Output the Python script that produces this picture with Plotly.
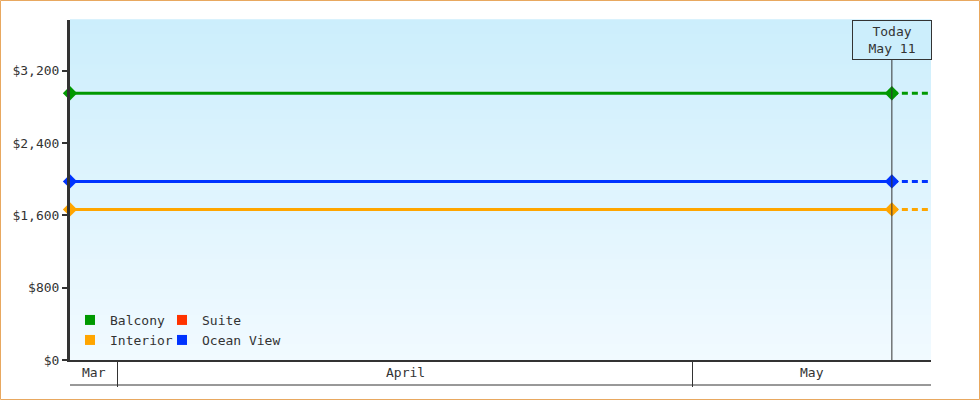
import plotly.graph_objects as go
import pandas as pd

# Data
dates = ["2024-03-29 12:00", "2024-05-11 09:00"]
today = "2024-05-11 09:00"
range_end = "2024-05-13 10:00"
series = ["Balcony", "Suite", "Interior", "Ocean View"]
colors = ["#009900", "#ff3300", "#ffa500", "#0033ff"]
balcony = [2950, 2950]
suite = [None, None]
interior = [1665, 1665]
ocean_view = [1975, 1975]
month_names = ["Mar", "April", "May"]
y_ticks = [0, 800, 1600, 2400, 3200]

values = [balcony, suite, interior, ocean_view]

W, H = 980, 400
ml, mr, mt, mb = 70, 49, 20, 40
pw, ph = W - ml - mr, H - mt - mb

font = dict(family="DejaVu Sans Mono", size=13, color="#333333")

fig = go.Figure()

for name, col, vals in zip(series, colors, values):
    fig.add_trace(go.Scatter(
        x=dates, y=vals, mode="lines+markers", showlegend=False,
        line=dict(color=col, width=3),
        marker=dict(symbol="diamond", size=11, color=col),
        cliponaxis=False, hoverinfo="skip"
    ))
    # projection after today
    last = vals[-1]
    fig.add_trace(go.Scatter(
        x=[today, range_end], y=[last, last], mode="lines", showlegend=False,
        line=dict(color=col, width=3, dash="6px,4px"), hoverinfo="skip"
    ))

# legend entries, one legend per cell of the 2x2 grid
legend_ids = ["legend", "legend2", "legend3", "legend4"]
for name, col, lid in zip(series, colors, legend_ids):
    fig.add_trace(go.Scatter(
        x=[None], y=[None], mode="markers", name=name,
        marker=dict(symbol="square", size=10, color=col),
        legend=lid
    ))

legend_style = dict(orientation="h", xanchor="left", yanchor="middle",
                    bgcolor="rgba(0,0,0,0)", font=font, itemwidth=30)
legend_pos = [(0, 40), (92, 40), (0, 20), (92, 20)]  # px from plot left / bottom

# gradient background
n = 68
top = (204, 238, 252)
bot = (241, 250, 255)
shapes = []
for i in range(n):
    t = i / (n - 1)
    c = tuple(round(top[k] + (bot[k] - top[k]) * t) for k in range(3))
    shapes.append(dict(type="rect", xref="paper", yref="paper", layer="below",
                       x0=0, x1=1, y0=1 - (i + 1) / n, y1=1 - i / n + 0.002,
                       fillcolor="rgb(%d,%d,%d)" % c, line=dict(width=0)))

# today line
shapes.append(dict(type="line", xref="x", yref="paper", x0=today, x1=today,
                   y0=0, y1=1 - 40 / ph, line=dict(color="#333333", width=1)))
# bottom line of month band
shapes.append(dict(type="line", xref="paper", yref="paper", x0=0, x1=1,
                   y0=-25 / ph, y1=-25 / ph, line=dict(color="#333333", width=1)))
# figure border
shapes.append(dict(type="rect", xref="paper", yref="paper",
                   x0=-(ml - 0.5) / pw, x1=1 + (mr - 0.5) / pw,
                   y0=-(mb - 0.5) / ph, y1=1 + (mt - 0.5) / ph,
                   line=dict(color="#e8a860", width=1)))

# month band labels and separators
start = pd.Timestamp(dates[0])
end = pd.Timestamp(range_end)
month_starts = pd.date_range(start.normalize().replace(day=1), end, freq="MS")
annotations = []
for i, ms in enumerate(month_starts):
    a = max(ms, start)
    b = min(ms + pd.offsets.MonthBegin(1), end)
    mid = a + (b - a) / 2
    annotations.append(dict(x=mid, y=-12.5 / ph, xref="x", yref="paper",
                            text=month_names[i], showarrow=False, font=font,
                            yanchor="middle"))
sep_vals = [m for m in month_starts if m > start]

annotations.append(dict(x=today, y=1, xref="x", yref="paper", yanchor="top",
                        text="Today<br>May 11", showarrow=False, font=font,
                        bordercolor="#333333", borderwidth=1, borderpad=2,
                        width=74, height=34, bgcolor="rgb(204,238,252)"))

fig.update_layout(
    width=W, height=H,
    margin=dict(l=ml, r=mr, t=mt, b=mb),
    paper_bgcolor="white", plot_bgcolor="rgba(0,0,0,0)",
    font=font,
    shapes=shapes, annotations=annotations,
)
for lid, (px, py) in zip(legend_ids, legend_pos):
    fig.update_layout({lid: dict(legend_style, x=px / pw, y=py / ph)})

fig.update_xaxes(
    type="date", range=[dates[0], range_end], showgrid=False, zeroline=False,
    showline=True, linewidth=2, linecolor="#333333",
    tickmode="array", tickvals=sep_vals, ticktext=[""] * len(sep_vals),
    ticks="outside", ticklen=25, tickwidth=1, tickcolor="#333333"
)
fig.update_yaxes(
    range=[0, 3760], showgrid=False, zeroline=False,
    showline=True, linewidth=3, linecolor="#333333",
    tickmode="array", tickvals=y_ticks, tickformat="$,",
    ticks="outside", ticklen=5, tickwidth=2, tickcolor="#333333"
)

fig.write_html("out.html", config={"displayModeBar": False},
               post_script="document.body.style.margin='0';")
